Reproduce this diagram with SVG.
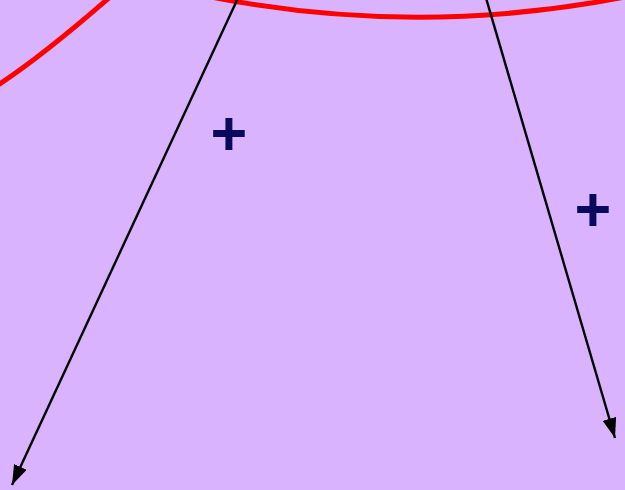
<svg xmlns="http://www.w3.org/2000/svg" width="625" height="490" viewBox="0 0 625 490">
<style>
.curve{fill:none;stroke:#ff0000;stroke-width:5}
.conn{fill:none;stroke:#000;stroke-width:2.4}
.lbl{font-family:"Liberation Sans",Arial,sans-serif;font-weight:bold;font-size:63px;fill:#0a0a5c;text-anchor:middle}
</style>
<defs>
<marker id="ah" viewBox="0 0 20 14" refX="20" refY="7" markerWidth="20" markerHeight="14" markerUnits="userSpaceOnUse" orient="auto">
<path d="M0 0L20 7L0 14Z" fill="#000"/>
</marker>
</defs>
<rect width="625" height="490" fill="#dab3ff"/>
<g id="shapes">
<path class="curve" d="M-5 87 Q40 58 110 -3"/>
<path class="curve" d="M211 -3 A1081 1081 0 0 0 625 -3"/>
</g>
<g id="connectors">
<path class="conn" d="M238 -2 L12 485" marker-end="url(#ah)"/>
<path class="conn" d="M486 -2 L615 438" marker-end="url(#ah)"/>
</g>
<g id="label1"><text class="lbl" x="229" y="155">+</text></g>
<g id="label2"><text class="lbl" x="593" y="231">+</text></g>
</svg>
